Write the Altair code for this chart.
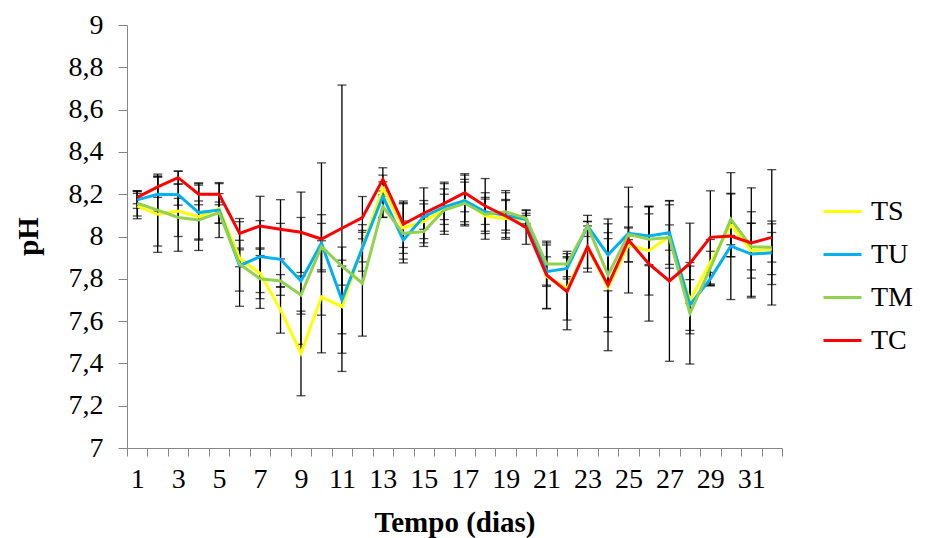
import altair as alt
import pandas as pd

days = list(range(1, 33))
series_names = ["TS", "TU", "TM", "TC"]
series_colors = ["#FFFF00", "#00B0F0", "#92D050", "#FF0000"]

ts = [8.144, 8.105, 8.12, 8.094, 8.133, 7.897, 7.826, 7.653, 7.447, 7.715, 7.668, 7.95,
      8.228, 8.04, 8.07, 8.13, 8.17, 8.097, 8.085, 8.08, 7.81, 7.755, 7.95, 7.76,
      7.96, 7.933, 8.0, 7.70, 7.876, 8.054, 7.933, 7.94]
tu = [8.173, 8.20, 8.198, 8.113, 8.125, 7.862, 7.905, 7.892, 7.79, 7.968, 7.70, 7.946,
      8.19, 7.983, 8.094, 8.14, 8.17, 8.117, 8.10, 8.08, 7.834, 7.849, 8.05, 7.913,
      8.015, 8.002, 8.018, 7.676, 7.80, 7.955, 7.917, 7.923]
tm = [8.157, 8.125, 8.09, 8.078, 8.113, 7.87, 7.80, 7.79, 7.723, 7.952, 7.86, 7.779,
      8.141, 8.015, 8.023, 8.125, 8.157, 8.105, 8.117, 8.086, 7.87, 7.87, 8.05, 7.818,
      8.01, 7.987, 7.995, 7.637, 7.85, 8.081, 7.952, 7.949]
tc = [8.185, 8.235, 8.278, 8.20, 8.20, 8.015, 8.05, 8.034, 8.02, 7.988, 8.039, 8.089,
      8.27, 8.058, 8.11, 8.157, 8.207, 8.144, 8.097, 8.043, 7.818, 7.739, 7.952, 7.77,
      7.983, 7.87, 7.79, 7.873, 7.996, 8.002, 7.97, 7.996]

ts_err = [0.06, 0.18, 0.19, 0.16, 0.07, 0.04, 0.12, 0.11, 0.2, 0.265, 0.22, 0.07,
          0.03, 0.12, 0.1, 0.12, 0.12, 0.11, 0.09, 0.02, 0.15, 0.15, 0.1, 0.3,
          0.08, 0.21, 0.15, 0.16, 0.11, 0.15, 0.13, 0.12]
tu_err = [0.04, 0.08, 0.05, 0.13, 0.13, 0.12, 0.17, 0.17, 0.3, 0.135, 0.16, 0.11,
          0.1, 0.09, 0.06, 0.06, 0.1, 0.06, 0.07, 0.03, 0.07, 0.05, 0.05, 0.17,
          0.03, 0.14, 0.15, 0.12, 0.03, 0.05, 0.2, 0.15]
tm_err = [0.06, 0.17, 0.09, 0.09, 0.05, 0.2, 0.14, 0.03, 0.09, 0.11, 0.09, 0.25,
          0.05, 0.14, 0.07, 0.1, 0.1, 0.08, 0.1, 0.04, 0.1, 0.06, 0.02, 0.2,
          0.13, 0.12, 0.06, 0.24, 0.08, 0.12, 0.11, 0.07]
tc_err = [0.03, 0.05, 0.03, 0.05, 0.05, 0.07, 0.14, 0.14, 0.19, 0.36, 0.677, 0.1,
          0.055, 0.11, 0.12, 0.1, 0.09, 0.13, 0.11, 0.08, 0.16, 0.18, 0.12, 0.22,
          0.25, 0.27, 0.38, 0.19, 0.22, 0.3, 0.26, 0.32]

y_ticks = [7.0, 7.2, 7.4, 7.6, 7.8, 8.0, 8.2, 8.4, 8.6, 8.8, 9.0]

rows = []
for name, vals, errs in zip(series_names, [ts, tu, tm, tc], [ts_err, tu_err, tm_err, tc_err]):
    for d, v, e in zip(days, vals, errs):
        rows.append({"dia": d, "serie": name, "pH": v, "err": e})
df = pd.DataFrame(rows)

FONT = "Liberation Serif"
x_vals = [i / 2 for i in range(1, 66)]

x_scale = alt.Scale(domain=[0.5, 32.5], nice=False, zero=False)
y_scale = alt.Scale(domain=[7, 9], nice=False, zero=False)

x_axis = alt.Axis(
    values=x_vals,
    labelExpr="(datum.value % 2) == 1 ? '' + datum.value : ''",
    tickOpacity={"condition": {"test": "datum.value % 1 == 0", "value": 0}, "value": 1},
    labelOverlap=False, labelFlush=False, labelBound=False,
    grid=False, tickSize=8, labelPadding=9,
    title="Tempo (dias)", titleY=74, titleBaseline="middle",
)
y_axis = alt.Axis(
    values=y_ticks,
    labelExpr="datum.value % 1 == 0 ? format(datum.value, 'd') : replace(format(datum.value, '.1f'), '.', ',')",
    grid=False, tickSize=9, labelPadding=15,
    title="pH", titleX=-99, titleY=211, titleAngle=-90, titleBaseline="middle",
)

base = alt.Chart(df).transform_calculate(
    lo="datum.pH - datum.err", hi="datum.pH + datum.err"
)

X = alt.X("dia:Q", scale=x_scale, axis=x_axis)

err_rule = base.mark_rule(color="black", strokeWidth=1.3).encode(
    x=X,
    y=alt.Y("lo:Q", scale=y_scale, axis=y_axis),
    y2="hi:Q",
)
cap_lo = base.mark_tick(color="black", orient="horizontal", size=9, thickness=1.3).encode(
    x=X, y=alt.Y("lo:Q", scale=y_scale, axis=y_axis)
)
cap_hi = base.mark_tick(color="black", orient="horizontal", size=9, thickness=1.3).encode(
    x=X, y=alt.Y("hi:Q", scale=y_scale, axis=y_axis)
)

lines = base.mark_line(strokeWidth=3).encode(
    x=X,
    y=alt.Y("pH:Q", scale=y_scale, axis=y_axis),
    color=alt.Color(
        "serie:N",
        scale=alt.Scale(domain=series_names, range=series_colors),
        legend=alt.Legend(
            title=None, orient="none", legendX=695, legendY=166,
            symbolType="stroke", symbolSize=1444, symbolStrokeWidth=3,
            rowPadding=8, labelOffset=8,
        ),
    ),
    detail="serie:N",
)

chart = alt.layer(err_rule, cap_lo, cap_hi, lines).properties(
    width=655, height=423,
    autosize=alt.AutoSizeParams(type="none"),
    padding={"left": 127, "top": 25, "right": 143, "bottom": 90},
).configure(
    font=FONT
).configure_view(
    stroke=None
).configure_axis(
    labelFont=FONT, labelFontSize=28, labelColor="black",
    titleFont=FONT, titleFontSize=29, titleFontWeight="bold", titleColor="black",
    domainColor="#868686", tickColor="#868686",
).configure_legend(
    labelFont=FONT, labelFontSize=28, labelColor="black",
)

chart.save("out.html", embed_options={"renderer": "svg", "actions": False})
